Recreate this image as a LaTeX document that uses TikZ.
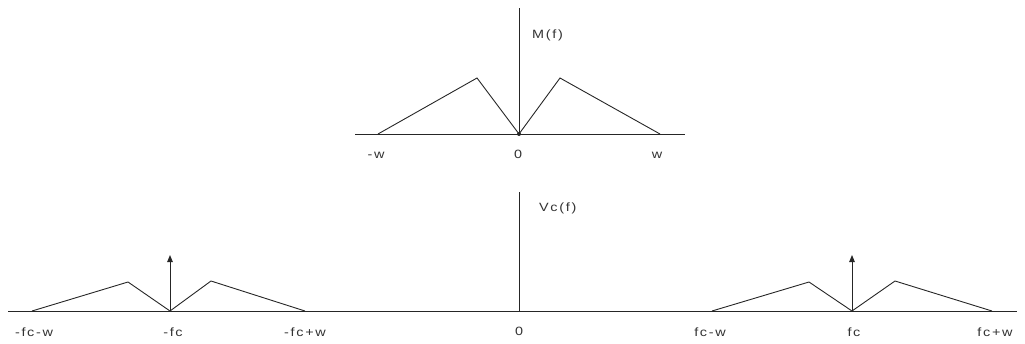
\documentclass[tikz,border=0pt]{standalone}
\usepackage{fontspec}
\setmainfont{Liberation Sans}
\newfontfamily\labfont[LetterSpace=14,FakeStretch=1.2]{Liberation Sans}
\usetikzlibrary{arrows.meta}
\begin{document}
\begin{tikzpicture}[x=1pt,y=-1pt,
  axis/.style={line width=1pt,black!85},
  spec/.style={line width=0.9pt,black!85,line join=miter},
  imp/.style={line width=1pt,black!85,-{Triangle[length=7pt,width=5.5pt]}},
  lab/.style={font=\labfont\fontsize{12}{13}\selectfont,text=black!80,inner sep=0pt}]
\useasboundingbox (0,0) rectangle (1025,343);
% ---------- top plot M(f)
\coordinate (tO) at (519,134);
\coordinate (tTop) at (519,8);
\coordinate (tL) at (355,134);
\coordinate (tR) at (685,134);
\draw[axis] (tL) -- (tR);
\draw[axis] (tO) -- (tTop);
\coordinate (a1) at (378,134);
\coordinate (a2) at (477,78);
\coordinate (a3) at (560,78);
\coordinate (a4) at (660,134);
\draw[spec] (a1) -- (a2) -- (tO) -- (a3) -- (a4);
\fill[black!85] (tO) circle (2pt);
\node[lab,anchor=west] (mf) at (532,35) {M(f)};
\node[lab] (mw) at (376,155) {-w};
\node[lab] (m0) at (518,154) {0};
\node[lab] (mpw) at (657,155) {w};
% ---------- bottom plot Vc(f)
\coordinate (bO) at (519,311);
\coordinate (bTop) at (519,192);
\coordinate (bL) at (8,311);
\coordinate (bR) at (1017,311);
\draw[axis] (bL) -- (bR);
\draw[axis] (bO) -- (bTop);
\node[lab,anchor=west] (vcf) at (539,208) {Vc(f)};
% left band
\coordinate (nc) at (170,311);
\coordinate (nu) at (170,255);
\coordinate (l1) at (32,311);
\coordinate (l2) at (128,282);
\coordinate (l3) at (211,281);
\coordinate (l4) at (305,311);
\draw[spec] (l1) -- (l2) -- (nc) -- (l3) -- (l4);
\draw[imp] (nc) -- (nu);
% right band
\coordinate (pc) at (852,311);
\coordinate (pu) at (852,255);
\coordinate (r1) at (712,311);
\coordinate (r2) at (809,282);
\coordinate (r3) at (895,281);
\coordinate (r4) at (992,311);
\draw[spec] (r1) -- (r2) -- (pc) -- (r3) -- (r4);
\draw[imp] (pc) -- (pu);
% labels
\node[lab] (x1) at (34,332) {-fc-w};
\node[lab] (x2) at (173,332) {-fc};
\node[lab] (x3) at (305,332) {-fc+w};
\node[lab] (x4) at (519,331) {0};
\node[lab] (x5) at (710,332) {fc-w};
\node[lab] (x6) at (854,332) {fc};
\node[lab] (x7) at (995,332) {fc+w};
\end{tikzpicture}
\end{document}
